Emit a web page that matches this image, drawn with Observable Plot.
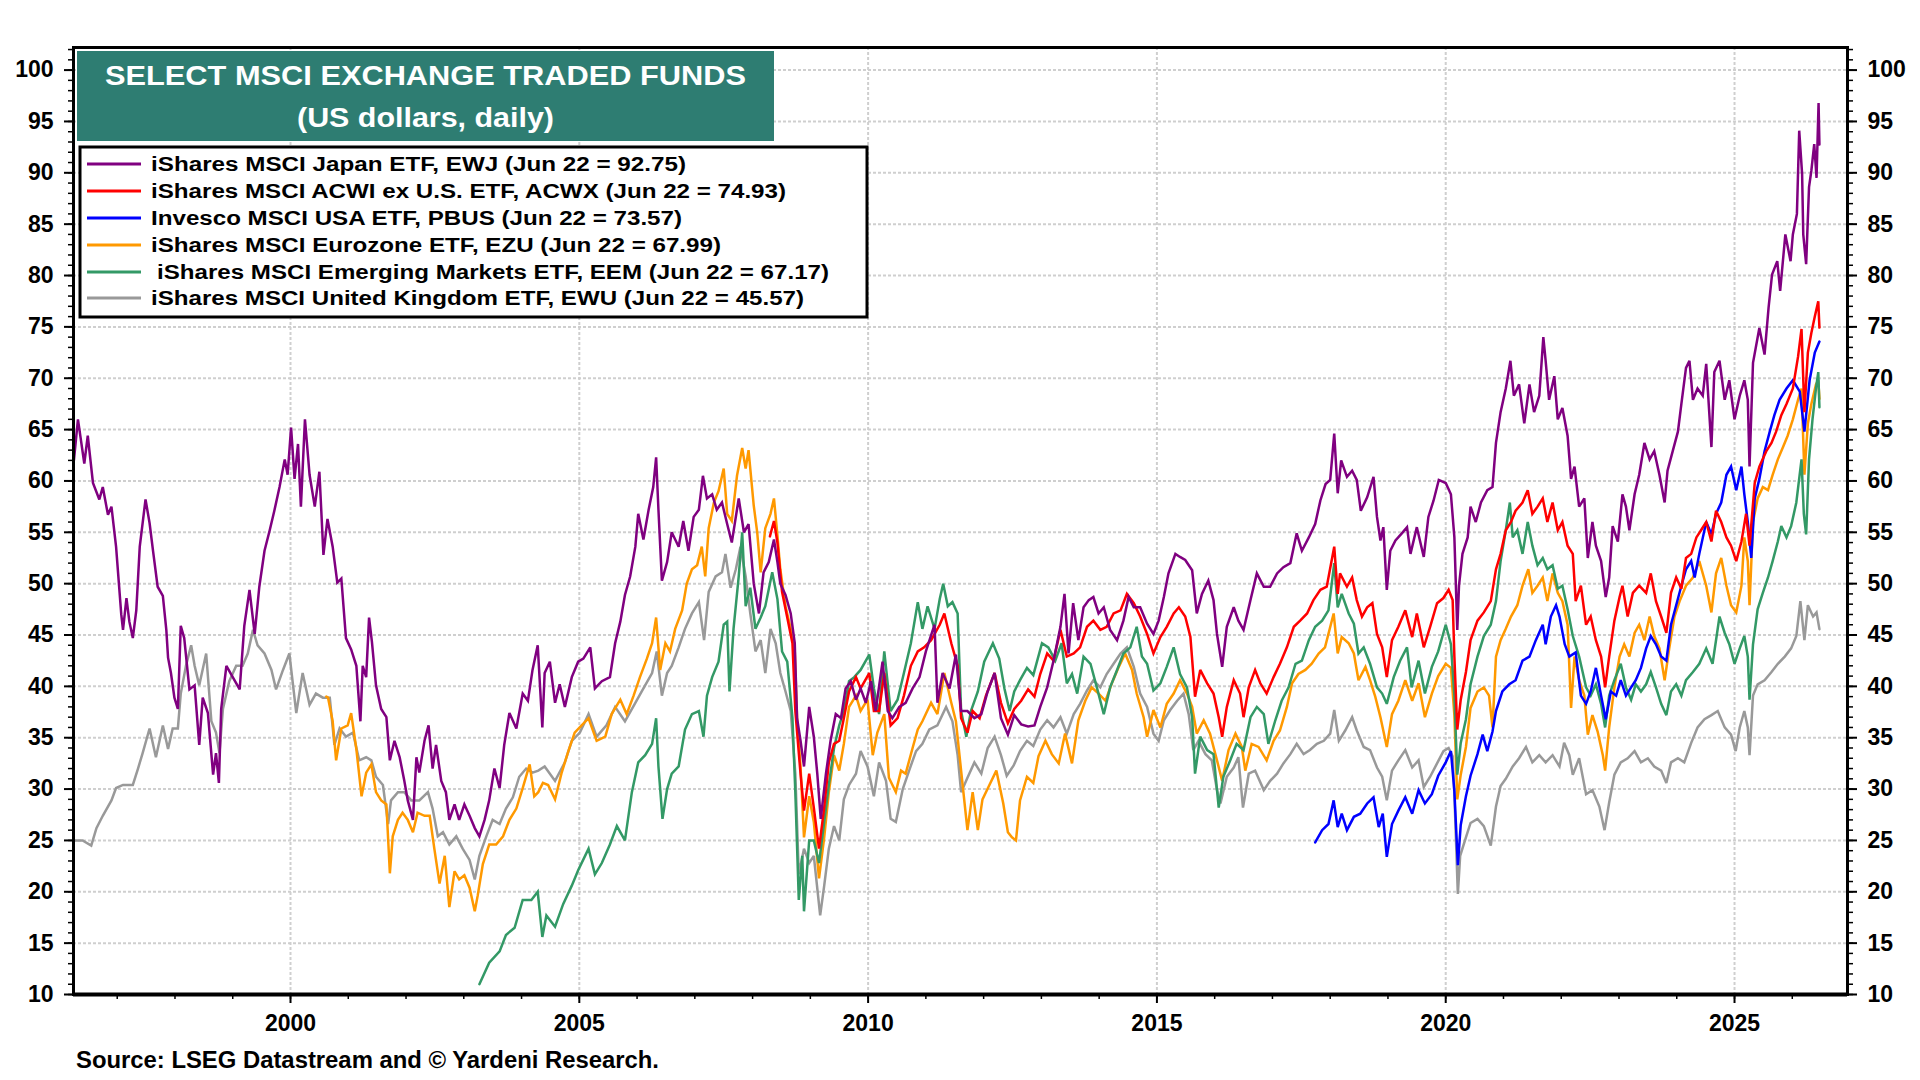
<!DOCTYPE html>
<html><head><meta charset="utf-8">
<script src="https://cdn.jsdelivr.net/npm/d3@7"></script>
<script src="https://cdn.jsdelivr.net/npm/@observablehq/plot@0.6"></script>
<style>
html,body{margin:0;padding:0;background:#fff;width:1920px;height:1080px;overflow:hidden;}
#wrap{position:relative;width:1920px;height:1080px;font-family:"Liberation Sans",Arial,sans-serif;}
#chart{position:absolute;left:0;top:0;}
#overlay{position:absolute;left:0;top:0;}
</style></head><body>
<div id="wrap"><div id="chart"></div><svg id="overlay" width="1920" height="1080"></svg></div>
<script>
// ---- data: [decimal year, US$] ----
const EWJ = [[1996.25,62.0],[1996.32,66.0],[1996.43,61.7],[1996.49,64.4],[1996.58,59.8],[1996.69,58.2],[1996.75,59.4],[1996.84,56.7],[1996.9,57.5],[1996.98,53.6],[1997.07,47.0],[1997.1,45.5],[1997.16,48.6],[1997.21,46.3],[1997.27,44.7],[1997.33,47.4],[1997.39,53.6],[1997.49,58.2],[1997.56,55.9],[1997.62,53.2],[1997.7,49.7],[1997.79,48.8],[1997.85,45.5],[1997.88,42.8],[1997.93,41.3],[1997.99,38.9],[1998.05,37.8],[1998.1,45.9],[1998.16,44.7],[1998.25,39.7],[1998.34,40.1],[1998.42,34.3],[1998.48,38.9],[1998.57,37.4],[1998.66,31.4],[1998.71,33.5],[1998.76,30.6],[1998.8,37.8],[1998.89,42.0],[1999.0,40.9],[1999.12,39.7],[1999.2,45.9],[1999.29,49.4],[1999.38,45.1],[1999.46,49.7],[1999.55,53.2],[1999.64,55.2],[1999.72,57.1],[1999.81,59.4],[1999.9,62.1],[1999.95,60.6],[2000.01,65.2],[2000.07,60.2],[2000.13,63.6],[2000.18,57.5],[2000.25,66.0],[2000.33,60.6],[2000.42,57.5],[2000.5,60.9],[2000.57,52.8],[2000.64,56.3],[2000.73,53.6],[2000.81,50.1],[2000.88,50.5],[2000.96,44.7],[2001.05,43.6],[2001.14,42.0],[2001.21,36.6],[2001.25,42.0],[2001.31,40.9],[2001.36,46.7],[2001.41,44.3],[2001.48,40.1],[2001.57,37.8],[2001.66,37.0],[2001.72,32.8],[2001.8,34.7],[2001.89,33.1],[2001.97,30.8],[2002.03,28.9],[2002.12,27.0],[2002.18,33.1],[2002.23,31.6],[2002.32,34.7],[2002.39,36.2],[2002.46,32.0],[2002.52,34.3],[2002.61,30.8],[2002.69,29.7],[2002.75,27.0],[2002.84,28.5],[2002.92,27.0],[2003.01,28.5],[2003.1,27.4],[2003.19,26.2],[2003.27,25.4],[2003.36,27.0],[2003.44,28.9],[2003.53,32.0],[2003.62,30.1],[2003.7,34.3],[2003.79,37.4],[2003.91,35.9],[2004.02,39.3],[2004.11,38.6],[2004.19,41.6],[2004.28,44.0],[2004.36,36.0],[2004.4,41.3],[2004.49,42.4],[2004.58,38.4],[2004.66,40.2],[2004.75,38.0],[2004.87,40.9],[2004.98,42.4],[2005.07,42.7],[2005.19,43.8],[2005.27,39.8],[2005.39,40.5],[2005.53,40.9],[2005.62,44.2],[2005.71,46.3],[2005.79,48.9],[2005.88,50.7],[2005.97,53.6],[2006.02,56.8],[2006.11,54.3],[2006.2,57.2],[2006.28,59.4],[2006.33,62.3],[2006.37,57.2],[2006.43,50.3],[2006.52,52.1],[2006.6,55.0],[2006.72,53.6],[2006.8,56.1],[2006.89,53.2],[2006.98,56.5],[2007.07,57.2],[2007.14,60.5],[2007.21,58.3],[2007.3,58.7],[2007.38,57.2],[2007.47,57.9],[2007.56,55.8],[2007.64,54.0],[2007.76,58.3],[2007.85,55.0],[2007.93,55.8],[2008.02,50.0],[2008.11,47.1],[2008.19,51.1],[2008.28,52.1],[2008.37,54.3],[2008.43,52.1],[2008.48,50.0],[2008.57,48.9],[2008.66,47.1],[2008.73,44.2],[2008.77,36.9],[2008.83,34.7],[2008.89,32.2],[2008.98,38.0],[2009.06,35.1],[2009.12,31.5],[2009.18,27.1],[2009.27,31.5],[2009.35,34.7],[2009.44,37.3],[2009.53,36.9],[2009.61,39.8],[2009.7,40.5],[2009.79,38.7],[2009.87,39.8],[2009.96,38.4],[2010.05,40.5],[2010.13,37.6],[2010.25,42.4],[2010.34,37.6],[2010.42,36.9],[2010.54,38.0],[2010.65,38.4],[2010.77,39.8],[2010.89,40.9],[2011.0,43.4],[2011.15,46.0],[2011.2,38.4],[2011.29,41.3],[2011.41,39.8],[2011.52,43.1],[2011.61,37.6],[2011.72,37.6],[2011.84,36.9],[2011.96,37.3],[2012.07,39.5],[2012.19,41.3],[2012.3,36.9],[2012.42,35.3],[2012.53,37.2],[2012.65,36.3],[2012.77,36.1],[2012.88,36.2],[2012.98,38.0],[2013.1,39.9],[2013.21,42.5],[2013.33,45.8],[2013.4,49.0],[2013.47,43.2],[2013.55,48.1],[2013.64,44.5],[2013.73,47.7],[2013.82,48.4],[2013.9,48.7],[2013.99,47.1],[2014.08,47.7],[2014.19,45.5],[2014.31,44.5],[2014.42,46.4],[2014.51,48.7],[2014.6,47.7],[2014.71,47.7],[2014.83,46.1],[2014.94,45.1],[2015.03,46.4],[2015.12,48.7],[2015.2,51.0],[2015.32,52.9],[2015.4,52.6],[2015.49,52.3],[2015.61,51.3],[2015.69,47.1],[2015.78,49.0],[2015.89,50.3],[2015.98,48.4],[2016.04,45.1],[2016.13,41.9],[2016.21,45.8],[2016.33,47.7],[2016.41,46.4],[2016.5,45.5],[2016.62,48.4],[2016.73,51.0],[2016.85,49.7],[2016.96,49.7],[2017.08,51.0],[2017.19,51.6],[2017.31,52.0],[2017.42,54.9],[2017.51,53.2],[2017.63,54.5],[2017.74,55.8],[2017.83,58.1],[2017.92,59.7],[2018.0,60.1],[2018.07,64.6],[2018.13,58.8],[2018.19,62.0],[2018.29,60.4],[2018.38,61.0],[2018.46,60.1],[2018.53,57.1],[2018.64,58.4],[2018.75,60.4],[2018.81,56.5],[2018.87,54.2],[2018.92,55.5],[2018.98,49.4],[2019.04,53.2],[2019.13,54.2],[2019.24,54.9],[2019.33,55.5],[2019.39,52.9],[2019.5,55.5],[2019.62,52.6],[2019.7,56.5],[2019.79,58.1],[2019.88,60.1],[2020.0,59.8],[2020.09,58.7],[2020.15,54.5],[2020.2,45.5],[2020.23,49.8],[2020.29,52.9],[2020.38,54.5],[2020.43,57.5],[2020.52,56.0],[2020.61,57.9],[2020.72,59.1],[2020.81,59.4],[2020.87,63.7],[2020.95,66.7],[2021.04,69.0],[2021.12,71.7],[2021.18,68.3],[2021.27,69.4],[2021.36,65.6],[2021.45,69.4],[2021.53,66.7],[2021.62,68.3],[2021.69,74.0],[2021.73,71.7],[2021.79,67.9],[2021.88,70.2],[2021.94,66.0],[2022.02,67.1],[2022.11,64.4],[2022.17,60.2],[2022.23,61.4],[2022.31,57.5],[2022.4,58.3],[2022.46,52.5],[2022.54,56.0],[2022.6,53.7],[2022.69,52.2],[2022.77,48.7],[2022.83,50.6],[2022.89,55.6],[2022.98,54.1],[2023.06,58.7],[2023.12,57.5],[2023.18,55.2],[2023.27,58.7],[2023.35,60.6],[2023.44,63.7],[2023.53,62.1],[2023.61,62.9],[2023.7,60.6],[2023.79,57.9],[2023.84,61.0],[2023.93,62.9],[2024.02,64.8],[2024.08,67.5],[2024.16,71.0],[2024.22,71.7],[2024.28,67.9],[2024.36,69.0],[2024.45,68.3],[2024.51,71.4],[2024.6,63.3],[2024.65,70.6],[2024.74,71.7],[2024.83,67.9],[2024.91,69.8],[2025.0,66.0],[2025.09,68.3],[2025.17,69.8],[2025.23,67.9],[2025.26,61.4],[2025.32,71.5],[2025.43,74.9],[2025.52,72.3],[2025.59,76.9],[2025.65,80.1],[2025.74,81.4],[2025.79,78.5],[2025.88,84.0],[2025.97,81.4],[2026.01,84.0],[2026.08,86.0],[2026.12,94.1],[2026.17,89.9],[2026.19,84.0],[2026.24,81.1],[2026.29,88.6],[2026.33,90.2],[2026.38,92.8],[2026.42,89.5],[2026.455,96.8],[2026.47,92.75]];

const ACWX = [[2008.3,54.6],[2008.37,56.1],[2008.43,54.0],[2008.51,49.2],[2008.6,46.7],[2008.69,44.2],[2008.74,37.6],[2008.83,31.5],[2008.89,27.9],[2008.98,31.5],[2009.06,28.2],[2009.15,24.2],[2009.24,28.2],[2009.32,32.6],[2009.41,34.4],[2009.5,34.7],[2009.58,36.9],[2009.67,39.5],[2009.79,40.9],[2009.87,39.8],[2010.02,41.3],[2010.1,37.6],[2010.19,37.6],[2010.28,41.3],[2010.39,36.2],[2010.51,36.9],[2010.62,39.1],[2010.74,42.0],[2010.86,43.4],[2010.97,43.8],[2011.09,44.5],[2011.24,46.0],[2011.32,47.1],[2011.44,44.2],[2011.55,42.0],[2011.61,36.9],[2011.72,35.5],[2011.81,37.6],[2011.93,36.9],[2012.04,39.1],[2012.19,41.3],[2012.3,38.4],[2012.42,36.4],[2012.53,37.8],[2012.65,38.6],[2012.77,39.7],[2012.88,39.0],[2012.98,41.2],[2013.1,43.2],[2013.21,42.5],[2013.33,45.5],[2013.44,42.9],[2013.56,43.2],[2013.67,43.8],[2013.79,45.8],[2013.9,46.4],[2014.02,45.5],[2014.13,45.8],[2014.25,47.1],[2014.37,47.4],[2014.48,49.0],[2014.6,48.1],[2014.71,46.8],[2014.83,45.1],[2014.94,43.2],[2015.06,44.8],[2015.17,45.8],[2015.29,47.1],[2015.38,47.7],[2015.49,46.8],[2015.58,44.8],[2015.66,39.0],[2015.75,41.6],[2015.87,40.3],[2015.98,39.3],[2016.07,37.0],[2016.13,35.1],[2016.21,38.0],[2016.33,40.6],[2016.44,39.3],[2016.5,37.0],[2016.59,39.9],[2016.7,41.6],[2016.79,40.3],[2016.9,39.3],[2017.02,40.9],[2017.13,42.2],[2017.25,43.8],[2017.37,45.8],[2017.48,46.4],[2017.6,47.1],[2017.71,48.4],[2017.83,49.4],[2017.94,49.7],[2018.07,53.6],[2018.13,49.0],[2018.17,51.0],[2018.29,49.7],[2018.38,50.6],[2018.46,48.4],[2018.55,46.8],[2018.64,47.7],[2018.73,48.1],[2018.81,45.1],[2018.9,43.8],[2018.98,40.9],[2019.07,44.5],[2019.18,45.8],[2019.3,47.4],[2019.42,44.8],[2019.5,47.1],[2019.62,43.8],[2019.73,45.8],[2019.85,48.1],[2019.96,48.6],[2020.05,49.4],[2020.12,48.4],[2020.15,42.9],[2020.2,35.8],[2020.26,38.7],[2020.35,41.4],[2020.43,44.5],[2020.55,46.4],[2020.66,47.2],[2020.78,48.3],[2020.87,51.4],[2020.95,52.9],[2021.04,55.2],[2021.13,56.0],[2021.21,57.1],[2021.33,57.9],[2021.42,59.1],[2021.5,56.8],[2021.59,57.5],[2021.68,58.3],[2021.76,56.0],[2021.85,57.9],[2021.94,55.2],[2022.02,56.0],[2022.11,53.7],[2022.2,52.9],[2022.25,48.3],[2022.34,49.8],[2022.43,46.0],[2022.51,46.8],[2022.6,44.5],[2022.69,42.9],[2022.76,39.9],[2022.83,42.9],[2022.92,46.4],[2023.01,48.7],[2023.06,49.8],[2023.15,46.8],[2023.24,49.1],[2023.35,49.8],[2023.47,49.1],[2023.55,51.0],[2023.64,48.3],[2023.73,46.8],[2023.82,45.2],[2023.9,49.1],[2023.99,50.6],[2024.08,49.5],[2024.16,52.5],[2024.25,52.9],[2024.34,54.5],[2024.42,55.2],[2024.51,56.0],[2024.6,54.1],[2024.68,57.1],[2024.77,56.0],[2024.86,54.5],[2024.94,53.7],[2025.03,52.2],[2025.12,54.1],[2025.2,56.8],[2025.26,53.7],[2025.35,59.8],[2025.43,61.4],[2025.55,62.9],[2025.64,63.7],[2025.72,64.8],[2025.81,66.4],[2025.9,67.5],[2026.01,69.0],[2026.1,72.1],[2026.16,74.8],[2026.21,66.7],[2026.27,72.5],[2026.33,74.4],[2026.39,76.0],[2026.45,77.5],[2026.47,74.93]];

const PBUS = [[2017.74,24.8],[2017.86,26.0],[2017.97,26.6],[2018.06,28.9],[2018.13,26.3],[2018.2,27.6],[2018.29,26.0],[2018.41,27.3],[2018.52,27.6],[2018.64,28.6],[2018.75,29.2],[2018.84,26.3],[2018.91,27.6],[2018.98,23.4],[2019.07,26.6],[2019.18,27.9],[2019.3,29.2],[2019.42,27.6],[2019.53,29.9],[2019.64,28.6],[2019.76,29.5],[2019.87,31.3],[2020.0,32.6],[2020.09,33.7],[2020.15,29.8],[2020.21,22.6],[2020.26,26.5],[2020.35,29.3],[2020.43,31.3],[2020.55,33.4],[2020.64,35.3],[2020.72,33.7],[2020.81,35.6],[2020.87,37.6],[2020.98,39.5],[2021.1,40.2],[2021.21,40.6],[2021.33,42.5],[2021.45,42.9],[2021.56,44.5],[2021.68,46.0],[2021.73,44.1],[2021.82,46.8],[2021.91,47.9],[2021.97,46.8],[2022.06,44.1],[2022.14,42.9],[2022.25,43.3],[2022.34,39.1],[2022.43,38.3],[2022.51,39.5],[2022.6,41.8],[2022.69,39.1],[2022.77,36.8],[2022.86,39.5],[2022.95,39.1],[2023.03,40.6],[2023.12,39.1],[2023.21,39.9],[2023.29,40.6],[2023.38,41.8],[2023.47,43.7],[2023.55,44.9],[2023.64,44.1],[2023.73,42.9],[2023.82,42.5],[2023.9,46.0],[2023.99,47.9],[2024.08,49.8],[2024.16,51.4],[2024.25,52.2],[2024.31,50.6],[2024.39,52.9],[2024.51,56.0],[2024.6,54.8],[2024.68,56.8],[2024.77,57.9],[2024.86,60.6],[2024.94,61.4],[2025.03,59.1],[2025.12,61.4],[2025.17,58.7],[2025.23,56.0],[2025.29,52.5],[2025.35,58.3],[2025.43,60.2],[2025.52,62.9],[2025.61,64.8],[2025.69,66.4],[2025.78,67.9],[2025.9,69.0],[2026.01,69.8],[2026.13,68.7],[2026.21,64.8],[2026.3,69.8],[2026.39,72.5],[2026.47,73.57]];

const EZU = [[2000.62,39.0],[2000.65,38.9],[2000.73,36.6],[2000.79,32.8],[2000.88,35.9],[2000.99,36.2],[2001.05,37.4],[2001.14,33.9],[2001.23,29.3],[2001.31,31.6],[2001.4,32.4],[2001.48,29.7],[2001.57,28.9],[2001.66,28.5],[2001.72,21.8],[2001.77,25.4],[2001.86,27.0],[2001.94,27.7],[2002.03,27.0],[2002.12,25.8],[2002.2,27.7],[2002.32,27.4],[2002.41,27.4],[2002.49,24.2],[2002.58,20.8],[2002.67,23.5],[2002.75,18.5],[2002.84,22.0],[2002.92,21.2],[2003.01,21.6],[2003.1,20.4],[2003.19,18.1],[2003.24,19.6],[2003.33,22.7],[2003.44,24.6],[2003.56,24.6],[2003.68,25.4],[2003.79,27.0],[2003.91,28.1],[2004.02,30.1],[2004.14,32.4],[2004.22,29.3],[2004.29,29.7],[2004.37,30.6],[2004.46,30.4],[2004.58,29.0],[2004.69,31.5],[2004.81,33.7],[2004.92,35.5],[2005.04,36.2],[2005.16,36.9],[2005.3,34.7],[2005.45,35.1],[2005.56,37.3],[2005.71,38.7],[2005.82,37.3],[2005.94,39.1],[2006.05,40.9],[2006.17,42.7],[2006.26,44.2],[2006.33,46.7],[2006.4,41.6],[2006.49,44.2],[2006.57,43.4],[2006.66,45.6],[2006.78,47.4],[2006.86,50.0],[2006.95,51.4],[2007.04,51.8],[2007.12,53.6],[2007.18,50.7],[2007.24,55.4],[2007.33,57.9],[2007.41,59.0],[2007.5,61.2],[2007.56,56.8],[2007.64,56.1],[2007.73,60.5],[2007.82,63.2],[2007.88,61.2],[2007.93,63.0],[2008.02,57.6],[2008.08,55.0],[2008.14,51.1],[2008.22,55.4],[2008.31,56.8],[2008.37,58.3],[2008.43,54.7],[2008.48,51.4],[2008.57,47.8],[2008.66,45.6],[2008.73,43.4],[2008.77,36.9],[2008.83,32.2],[2008.89,25.3],[2008.98,29.3],[2009.06,26.8],[2009.15,21.3],[2009.24,25.3],[2009.32,29.7],[2009.41,33.3],[2009.5,31.8],[2009.58,34.4],[2009.67,38.0],[2009.79,39.1],[2009.87,37.6],[2009.99,38.7],[2010.08,33.3],[2010.16,35.5],[2010.28,37.3],[2010.36,31.1],[2010.48,29.7],[2010.57,31.8],[2010.65,31.5],[2010.77,34.0],[2010.86,35.8],[2010.94,36.6],[2011.09,38.4],[2011.2,37.3],[2011.32,41.3],[2011.44,38.4],[2011.52,36.6],[2011.61,31.8],[2011.72,26.0],[2011.81,29.7],[2011.9,26.0],[2011.98,29.0],[2012.1,30.4],[2012.22,31.8],[2012.34,28.6],[2012.42,25.8],[2012.49,25.3],[2012.56,25.0],[2012.63,28.9],[2012.75,31.2],[2012.86,30.6],[2012.95,33.2],[2013.07,34.7],[2013.18,33.4],[2013.3,32.5],[2013.41,35.4],[2013.53,32.5],[2013.64,36.7],[2013.76,38.6],[2013.87,39.9],[2013.99,39.3],[2014.11,38.6],[2014.22,40.3],[2014.34,41.9],[2014.45,43.2],[2014.57,41.6],[2014.65,39.3],[2014.77,37.0],[2014.83,35.1],[2014.94,37.7],[2015.06,36.0],[2015.17,38.3],[2015.29,39.3],[2015.4,40.6],[2015.52,39.3],[2015.61,38.0],[2015.69,35.4],[2015.81,36.7],[2015.92,35.4],[2016.04,32.8],[2016.13,30.8],[2016.24,33.8],[2016.36,35.4],[2016.47,34.1],[2016.53,31.8],[2016.64,34.4],[2016.76,34.1],[2016.9,32.8],[2017.02,34.7],[2017.13,35.7],[2017.25,38.0],[2017.34,40.3],[2017.45,41.2],[2017.57,41.6],[2017.68,42.2],[2017.8,43.2],[2017.91,43.8],[2018.06,47.1],[2018.13,43.2],[2018.2,44.8],[2018.32,44.2],[2018.41,43.2],[2018.49,40.6],[2018.61,41.9],[2018.69,40.6],[2018.78,39.0],[2018.87,37.0],[2018.98,34.1],[2019.07,37.3],[2019.18,38.6],[2019.3,40.6],[2019.42,38.6],[2019.53,40.3],[2019.64,37.0],[2019.76,39.3],[2019.87,41.0],[2020.0,42.2],[2020.09,41.8],[2020.15,37.2],[2020.2,29.0],[2020.26,31.4],[2020.35,34.1],[2020.43,37.9],[2020.55,39.5],[2020.66,39.9],[2020.75,39.1],[2020.81,36.0],[2020.87,42.9],[2020.95,44.5],[2021.04,45.6],[2021.13,46.8],[2021.24,47.9],[2021.33,49.8],[2021.43,51.4],[2021.5,49.1],[2021.59,49.8],[2021.68,50.6],[2021.76,48.3],[2021.85,51.0],[2021.94,49.1],[2022.02,48.3],[2022.11,46.0],[2022.17,37.9],[2022.23,42.9],[2022.31,40.6],[2022.4,39.1],[2022.46,35.3],[2022.54,37.2],[2022.63,35.6],[2022.72,33.3],[2022.76,31.8],[2022.83,36.0],[2022.92,39.9],[2023.01,42.9],[2023.09,44.1],[2023.18,42.9],[2023.27,45.2],[2023.35,46.0],[2023.44,44.5],[2023.53,46.8],[2023.61,44.9],[2023.7,43.7],[2023.79,40.6],[2023.87,43.7],[2023.96,46.8],[2024.05,48.3],[2024.16,49.8],[2024.28,50.6],[2024.39,52.2],[2024.51,49.8],[2024.6,47.2],[2024.68,51.0],[2024.77,52.5],[2024.86,49.8],[2024.94,47.9],[2025.03,47.2],[2025.12,49.8],[2025.17,54.5],[2025.23,52.2],[2025.26,47.9],[2025.32,56.0],[2025.4,58.3],[2025.49,59.4],[2025.58,59.1],[2025.66,60.6],[2025.75,62.1],[2025.84,63.3],[2025.92,64.4],[2026.01,66.0],[2026.1,67.9],[2026.16,69.0],[2026.21,60.6],[2026.27,65.6],[2026.33,67.5],[2026.41,69.4],[2026.45,69.8],[2026.47,67.99]];

const EEM = [[2003.27,11.0],[2003.44,13.1],[2003.62,14.2],[2003.73,15.8],[2003.88,16.5],[2004.02,19.2],[2004.17,19.2],[2004.28,20.0],[2004.36,15.6],[2004.43,17.7],[2004.58,16.6],[2004.72,18.8],[2004.87,20.6],[2004.98,22.1],[2005.1,23.5],[2005.16,24.2],[2005.27,21.7],[2005.39,22.8],[2005.53,24.6],[2005.65,26.4],[2005.79,25.0],[2005.91,29.7],[2006.02,32.6],[2006.14,33.3],[2006.26,34.4],[2006.33,36.9],[2006.37,32.2],[2006.44,27.1],[2006.52,30.0],[2006.6,31.5],[2006.72,32.2],[2006.83,35.8],[2006.95,37.3],[2007.07,37.6],[2007.15,35.1],[2007.21,39.1],[2007.3,40.9],[2007.41,42.4],[2007.5,46.0],[2007.56,46.3],[2007.6,39.5],[2007.67,45.6],[2007.76,50.7],[2007.82,55.0],[2007.88,47.8],[2007.96,49.6],[2008.05,45.6],[2008.14,46.7],[2008.22,47.8],[2008.34,51.1],[2008.43,48.5],[2008.51,43.4],[2008.6,42.4],[2008.69,36.9],[2008.74,29.7],[2008.8,19.2],[2008.86,23.5],[2008.89,18.1],[2008.98,25.0],[2009.06,25.0],[2009.15,22.8],[2009.24,26.8],[2009.32,30.4],[2009.41,34.0],[2009.5,36.2],[2009.58,37.6],[2009.67,40.5],[2009.76,40.9],[2009.87,41.6],[2010.02,43.1],[2010.1,39.8],[2010.19,37.3],[2010.28,43.4],[2010.39,37.6],[2010.51,38.7],[2010.62,41.3],[2010.74,44.2],[2010.86,48.2],[2010.94,45.6],[2011.03,47.8],[2011.15,45.6],[2011.24,48.5],[2011.3,50.0],[2011.38,47.8],[2011.46,48.2],[2011.55,47.1],[2011.61,37.6],[2011.7,35.1],[2011.78,37.6],[2011.9,39.5],[2012.01,42.4],[2012.16,44.2],[2012.27,42.7],[2012.36,39.8],[2012.45,37.6],[2012.53,39.5],[2012.63,40.6],[2012.75,41.8],[2012.86,41.1],[2013.01,44.2],[2013.12,43.8],[2013.24,42.5],[2013.35,44.2],[2013.44,40.3],[2013.53,41.2],[2013.62,39.3],[2013.73,42.9],[2013.85,42.2],[2013.96,39.9],[2014.08,37.3],[2014.19,39.9],[2014.31,41.6],[2014.42,43.2],[2014.54,43.8],[2014.65,45.8],[2014.74,42.9],[2014.83,42.2],[2014.94,39.6],[2015.06,40.3],[2015.17,41.9],[2015.29,43.8],[2015.4,41.2],[2015.52,39.9],[2015.61,37.0],[2015.66,31.5],[2015.75,35.1],[2015.87,33.8],[2015.98,33.4],[2016.07,28.2],[2016.15,31.2],[2016.27,32.8],[2016.38,34.4],[2016.5,33.8],[2016.62,37.0],[2016.73,38.0],[2016.85,37.3],[2016.93,34.4],[2017.05,36.7],[2017.16,38.6],[2017.28,39.9],[2017.4,42.2],[2017.51,42.5],[2017.63,44.5],[2017.74,45.8],[2017.86,46.4],[2017.97,47.4],[2018.07,52.0],[2018.13,47.7],[2018.2,49.0],[2018.32,47.1],[2018.41,46.1],[2018.49,43.2],[2018.58,43.8],[2018.69,42.2],[2018.81,39.9],[2018.9,39.3],[2018.98,38.3],[2019.1,40.9],[2019.21,42.5],[2019.33,43.8],[2019.41,39.9],[2019.53,42.5],[2019.64,39.3],[2019.76,41.9],[2019.87,43.4],[2020.0,46.0],[2020.09,44.1],[2020.15,39.1],[2020.2,31.4],[2020.26,34.5],[2020.35,36.8],[2020.43,40.2],[2020.55,42.9],[2020.66,44.9],[2020.78,46.0],[2020.87,48.3],[2020.95,52.2],[2021.04,55.2],[2021.11,57.9],[2021.16,54.5],[2021.24,55.2],[2021.33,52.9],[2021.42,56.0],[2021.5,53.7],[2021.59,51.8],[2021.68,52.5],[2021.76,51.4],[2021.85,51.8],[2021.94,49.5],[2022.02,49.8],[2022.11,47.5],[2022.2,44.9],[2022.31,42.9],[2022.43,39.9],[2022.51,39.1],[2022.6,40.2],[2022.69,38.3],[2022.76,36.0],[2022.83,39.1],[2022.92,40.6],[2023.03,42.2],[2023.12,39.9],[2023.21,38.7],[2023.29,40.2],[2023.38,39.5],[2023.47,40.2],[2023.55,41.4],[2023.64,39.9],[2023.73,38.3],[2023.82,37.2],[2023.9,39.5],[2023.99,40.2],[2024.08,39.1],[2024.16,40.6],[2024.28,41.4],[2024.39,42.2],[2024.51,43.7],[2024.62,42.2],[2024.74,46.8],[2024.83,45.2],[2024.91,44.1],[2025.0,42.2],[2025.09,43.7],[2025.17,44.9],[2025.23,42.9],[2025.26,38.7],[2025.32,44.1],[2025.4,47.5],[2025.49,49.1],[2025.58,50.6],[2025.66,52.2],[2025.75,54.1],[2025.81,55.6],[2025.9,54.5],[2025.98,55.6],[2026.07,57.9],[2026.16,62.1],[2026.2,56.8],[2026.24,54.8],[2026.29,62.1],[2026.35,66.0],[2026.41,69.0],[2026.45,70.6],[2026.47,67.17]];

const EWU = [[1996.25,25.0],[1996.4,25.0],[1996.55,24.5],[1996.64,26.2],[1996.75,27.4],[1996.9,28.9],[1996.98,30.1],[1997.1,30.4],[1997.27,30.4],[1997.36,32.0],[1997.44,33.5],[1997.56,35.9],[1997.67,33.1],[1997.79,36.2],[1997.88,33.9],[1997.96,35.9],[1998.05,35.9],[1998.1,39.3],[1998.19,42.0],[1998.28,44.0],[1998.34,42.0],[1998.42,40.1],[1998.54,43.2],[1998.63,36.6],[1998.71,35.5],[1998.77,33.5],[1998.83,37.8],[1998.94,40.5],[1999.06,42.0],[1999.17,42.0],[1999.26,43.2],[1999.35,45.5],[1999.43,44.0],[1999.55,43.2],[1999.67,41.6],[1999.75,39.7],[1999.87,41.6],[1999.98,43.2],[2000.1,37.4],[2000.21,41.3],[2000.33,38.2],[2000.44,39.3],[2000.56,38.9],[2000.68,38.9],[2000.76,34.3],[2000.85,35.9],[2000.96,35.1],[2001.08,35.5],[2001.19,32.8],[2001.31,33.1],[2001.4,32.8],[2001.48,31.2],[2001.6,30.4],[2001.69,26.6],[2001.74,28.9],[2001.86,29.7],[2001.97,29.7],[2002.09,28.9],[2002.23,28.9],[2002.38,29.7],[2002.46,28.1],[2002.55,25.4],[2002.64,25.8],[2002.75,24.6],[2002.87,25.4],[2002.98,24.2],[2003.1,23.1],[2003.19,21.2],[2003.27,23.5],[2003.39,25.4],[2003.5,27.0],[2003.62,26.6],[2003.73,28.1],[2003.85,29.2],[2003.96,31.2],[2004.08,32.0],[2004.19,31.6],[2004.29,31.8],[2004.4,32.2],[2004.58,30.8],[2004.75,32.6],[2004.87,34.7],[2005.01,35.5],[2005.16,37.3],[2005.3,35.1],[2005.47,36.2],[2005.62,38.0],[2005.79,36.6],[2005.97,38.4],[2006.11,39.8],[2006.26,41.3],[2006.34,43.4],[2006.43,39.1],[2006.52,41.3],[2006.6,42.0],[2006.72,43.8],[2006.83,45.6],[2006.95,47.1],[2007.07,48.2],[2007.16,44.5],[2007.24,49.2],[2007.36,50.7],[2007.47,51.1],[2007.53,52.9],[2007.62,49.6],[2007.71,51.4],[2007.79,53.6],[2007.88,50.7],[2007.96,47.1],[2008.05,43.4],[2008.14,44.5],[2008.22,41.3],[2008.31,45.6],[2008.4,44.2],[2008.48,41.3],[2008.57,39.5],[2008.66,37.6],[2008.74,31.5],[2008.8,21.7],[2008.89,24.2],[2008.98,22.8],[2009.06,23.5],[2009.17,17.7],[2009.24,20.6],[2009.32,24.2],[2009.41,26.4],[2009.5,25.0],[2009.58,29.0],[2009.67,30.4],[2009.79,31.5],[2009.87,33.7],[2009.99,32.2],[2010.1,29.3],[2010.19,32.6],[2010.31,30.8],[2010.39,27.1],[2010.48,26.8],[2010.6,30.0],[2010.71,31.8],[2010.83,33.7],[2010.94,34.4],[2011.06,35.8],[2011.2,36.2],[2011.35,38.0],[2011.46,36.6],[2011.55,33.3],[2011.61,29.7],[2011.72,31.1],[2011.84,32.6],[2011.96,31.5],[2012.07,34.0],[2012.19,35.1],[2012.3,33.3],[2012.4,31.3],[2012.52,32.3],[2012.63,33.7],[2012.75,34.7],[2012.86,34.2],[2012.98,35.8],[2013.1,36.7],[2013.21,36.0],[2013.33,37.0],[2013.44,35.4],[2013.56,37.3],[2013.67,38.3],[2013.79,39.6],[2013.9,40.6],[2014.02,39.9],[2014.13,41.2],[2014.25,42.2],[2014.37,43.2],[2014.48,43.8],[2014.6,41.9],[2014.71,39.3],[2014.83,38.0],[2014.94,35.4],[2015.03,34.7],[2015.12,36.7],[2015.23,37.7],[2015.35,38.6],[2015.46,39.3],[2015.55,37.3],[2015.63,33.8],[2015.72,34.7],[2015.84,33.4],[2015.95,32.8],[2016.04,29.9],[2016.1,28.6],[2016.21,31.2],[2016.33,32.1],[2016.41,33.1],[2016.49,28.2],[2016.59,31.5],[2016.7,31.8],[2016.85,29.9],[2016.96,30.8],[2017.08,31.5],[2017.19,32.5],[2017.31,33.4],[2017.42,34.4],[2017.54,33.4],[2017.65,33.8],[2017.77,34.4],[2017.89,34.7],[2018.0,35.4],[2018.07,37.7],[2018.15,34.7],[2018.26,35.7],[2018.38,37.0],[2018.46,35.7],[2018.58,34.1],[2018.69,33.8],[2018.81,32.1],[2018.9,31.2],[2018.98,28.9],[2019.07,31.8],[2019.18,32.8],[2019.3,33.8],[2019.42,32.1],[2019.53,32.8],[2019.62,30.2],[2019.73,31.2],[2019.85,32.5],[2019.96,33.7],[2020.05,34.0],[2020.12,33.2],[2020.15,29.5],[2020.21,19.8],[2020.25,23.5],[2020.35,25.3],[2020.43,26.7],[2020.55,27.1],[2020.66,26.4],[2020.78,24.5],[2020.87,28.3],[2020.95,30.3],[2021.04,31.0],[2021.16,32.2],[2021.27,33.0],[2021.39,34.1],[2021.5,32.6],[2021.62,33.3],[2021.73,32.6],[2021.85,33.3],[2021.97,32.2],[2022.05,34.5],[2022.14,33.3],[2022.2,31.4],[2022.31,33.0],[2022.43,29.5],[2022.54,29.9],[2022.66,28.3],[2022.75,26.0],[2022.83,28.7],[2022.92,31.4],[2023.03,32.6],[2023.15,33.0],[2023.27,33.7],[2023.38,32.6],[2023.5,33.0],[2023.61,32.2],[2023.73,31.8],[2023.82,30.6],[2023.9,32.6],[2024.02,33.0],[2024.13,32.6],[2024.25,34.5],[2024.36,36.0],[2024.48,36.8],[2024.6,37.2],[2024.71,37.6],[2024.83,36.0],[2024.94,35.3],[2025.02,33.7],[2025.09,36.0],[2025.17,37.6],[2025.23,36.0],[2025.26,33.3],[2025.32,39.1],[2025.4,40.2],[2025.52,40.6],[2025.64,41.4],[2025.75,42.2],[2025.87,42.9],[2025.98,43.7],[2026.07,44.9],[2026.14,48.3],[2026.21,44.5],[2026.27,47.9],[2026.36,46.8],[2026.42,47.2],[2026.47,45.57]];

// ---- labels / ticks ----
const legendLabels = [
  "iShares MSCI Japan ETF, EWJ (Jun 22 = 92.75)",
  "iShares MSCI ACWI ex U.S. ETF, ACWX (Jun 22 = 74.93)",
  "Invesco MSCI USA ETF, PBUS (Jun 22 = 73.57)",
  "iShares MSCI Eurozone ETF, EZU (Jun 22 = 67.99)",
  " iShares MSCI Emerging Markets ETF, EEM (Jun 22 = 67.17)",
  "iShares MSCI United Kingdom ETF, EWU (Jun 22 = 45.57)"
];
const seriesColors = ["#800080", "#FF0000", "#0000FF", "#FF9900", "#339966", "#999999"];
const seriesData = [EWJ, ACWX, PBUS, EZU, EEM, EWU];
const titleLines = ["SELECT MSCI EXCHANGE TRADED FUNDS", "(US dollars, daily)"];
const sourceText = "Source: LSEG Datastream and \u00A9 Yardeni Research.";
const yMajorTicks = d3.range(10, 101, 5);
const yMinorTicks = d3.range(10, 103, 1);
const xMajorTicks = [2000, 2005, 2010, 2015, 2020, 2025];
const xMinorTicks = d3.range(1997, 2027, 1);

// ---- chart ----
const gridStyle = {stroke: "#cfcfcf", strokeOpacity: 1, strokeWidth: 2, strokeDasharray: "3,2"};
const drawOrder = [5, 3, 4, 2, 1, 0];
const lineMarks = drawOrder.map(i => Plot.line(seriesData[i], {
  x: d => d[0], y: d => d[1], stroke: seriesColors[i], strokeWidth: 2.5, strokeLinejoin: "miter", strokeMiterlimit: 3
}));
const empty = () => "";
const plot = Plot.plot({
  width: 1920, height: 1040,
  marginLeft: 73, marginRight: 73, marginTop: 47, marginBottom: 46,
  style: {fontFamily: '"Liberation Sans", Arial, Helvetica, sans-serif', fontSize: "23px", fontWeight: "bold", color: "#000", background: "transparent", overflow: "visible"},
  x: {type: "linear", domain: [1996.243, 2026.956], label: null},
  y: {type: "linear", domain: [10, 102.2], label: null},
  marks: [
    Plot.gridY(yMajorTicks.filter(v => v > 10), gridStyle),
    Plot.gridX(xMajorTicks, gridStyle),
    ...lineMarks,
    Plot.axisY(yMinorTicks, {anchor: "left", tickSize: 5, tickFormat: empty, strokeWidth: 1.5, label: null}),
    Plot.axisY(yMajorTicks, {anchor: "left", tickSize: 9, tickPadding: 11, strokeWidth: 2, tickFormat: d => String(d), label: null}),
    Plot.axisY(yMinorTicks, {anchor: "right", tickSize: 5, tickFormat: empty, strokeWidth: 1.5, label: null}),
    Plot.axisY(yMajorTicks, {anchor: "right", tickSize: 9, tickPadding: 11, strokeWidth: 2, tickFormat: d => String(d), label: null}),
    Plot.axisX(xMinorTicks, {anchor: "bottom", tickSize: 5, tickFormat: empty, strokeWidth: 1.5, label: null}),
    Plot.axisX(xMajorTicks, {anchor: "bottom", tickSize: 9, tickPadding: 11, strokeWidth: 2, tickFormat: d => String(d), label: null}),
    Plot.frame({stroke: "#000", strokeWidth: 3}),
    Plot.ruleY([10], {stroke: "#000", strokeWidth: 4})
  ]
});
document.getElementById("chart").appendChild(plot);

// ---- overlay: title box, legend, source ----
const ov = d3.select("#overlay");
const FONT = '"Liberation Sans", Arial, Helvetica, sans-serif';
ov.append("rect").attr("x", 77).attr("y", 51).attr("width", 697).attr("height", 90).attr("fill", "#2E7D72");
const titleGeom = [{y: 85, len: 641}, {y: 127, len: 257}];
titleLines.forEach((t, i) => {
  ov.append("text").attr("x", 425.5).attr("y", titleGeom[i].y)
    .attr("text-anchor", "middle").attr("fill", "#fff")
    .attr("font-family", FONT).attr("font-weight", "bold").attr("font-size", 28)
    .attr("textLength", titleGeom[i].len).attr("lengthAdjust", "spacingAndGlyphs")
    .text(t);
});
ov.append("rect").attr("x", 80).attr("y", 147).attr("width", 787).attr("height", 170)
  .attr("fill", "#fff").attr("stroke", "#000").attr("stroke-width", 3);
const rowY = [164, 191, 218, 245, 272, 298];
const textLens = [535, 635, 531, 570, 672, 653];
legendLabels.forEach((lab, i) => {
  ov.append("line").attr("x1", 87).attr("x2", 141).attr("y1", rowY[i]).attr("y2", rowY[i])
    .attr("stroke", seriesColors[i]).attr("stroke-width", 3);
  const lead = lab.startsWith(" ");
  ov.append("text").attr("x", lead ? 157 : 151).attr("y", rowY[i] + 7)
    .attr("fill", "#000").attr("font-family", FONT).attr("font-weight", "bold").attr("font-size", 19.5)
    .attr("textLength", textLens[i]).attr("lengthAdjust", "spacingAndGlyphs")
    .text(lab.trim());
});
ov.append("text").attr("x", 76).attr("y", 1068).attr("fill", "#000")
  .attr("font-family", FONT).attr("font-weight", "bold").attr("font-size", 23)
  .attr("textLength", 583).attr("lengthAdjust", "spacingAndGlyphs")
  .text(sourceText);
</script>
</body></html>
